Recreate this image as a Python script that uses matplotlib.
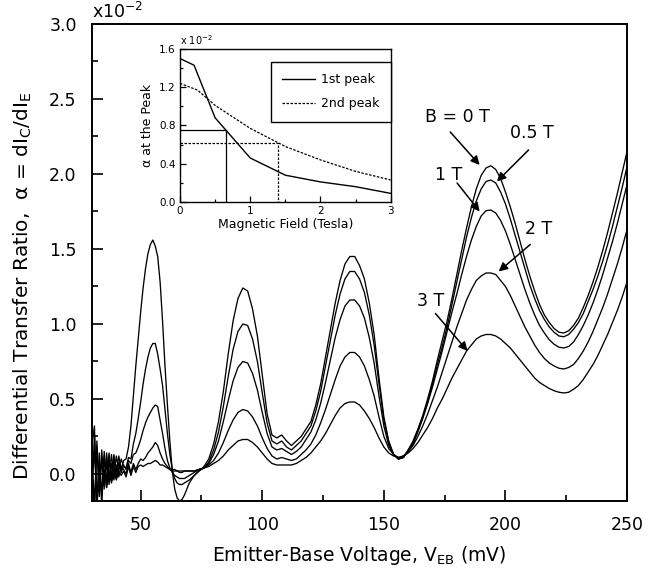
import matplotlib
matplotlib.use('Agg')
import matplotlib.pyplot as plt
from matplotlib.ticker import MultipleLocator, FormatStrFormatter

plt.rcParams['font.family'] = ['DejaVu Sans']
plt.rcParams['mathtext.fontset'] = 'dejavusans'

# emitter-base voltage grid (mV)
v_mv = list(range(30, 71)) + list(range(72, 251, 2))

# alpha (x1e-2) for each magnetic field
alpha_0t = [0.20, 0.32, -0.25, 0.14, -0.22, 0.15, -0.06, 0.14, -0.03, 0.13, 0.01, 0.12, 0.03, 0.09,
            0.10, 0.18, 0.32, 0.52, 0.72, 0.90, 1.08, 1.24, 1.37, 1.47, 1.53, 1.56, 1.52, 1.45, 1.28,
            1.02, 0.72, 0.46, 0.22, 0.02, -0.10, -0.16, -0.18, -0.17, -0.14, -0.10, -0.06,
            -0.01, 0.02, 0.05, 0.10, 0.20, 0.35, 0.55, 0.80, 1.02, 1.17, 1.24, 1.22, 1.10, 0.92, 0.66,
            0.40, 0.26, 0.24, 0.26, 0.22, 0.19, 0.22, 0.25, 0.30, 0.35, 0.46, 0.60, 0.78, 0.96, 1.14,
            1.29, 1.40, 1.45, 1.45, 1.39, 1.30, 1.14, 0.93, 0.64, 0.38, 0.22, 0.13, 0.10, 0.11, 0.16,
            0.22, 0.30, 0.39, 0.50, 0.62, 0.76, 0.89, 1.02, 1.17, 1.33, 1.49, 1.64, 1.78, 1.90, 1.99,
            2.04, 2.055, 2.03, 1.97, 1.88, 1.78, 1.67, 1.55, 1.43, 1.32, 1.22, 1.13, 1.06, 1.01, 0.97,
            0.945, 0.94, 0.955, 0.99, 1.04, 1.11, 1.19, 1.28, 1.38, 1.49, 1.61, 1.74, 1.87, 2.01, 2.15]
alpha_05t = [0.05, -0.25, 0.22, -0.12, 0.16, -0.08, 0.14, -0.04, 0.13, -0.01, 0.12, 0.02, 0.10, 0.05,
             0.04, 0.11, 0.10, 0.20, 0.27, 0.37, 0.48, 0.60, 0.70, 0.78, 0.84, 0.87, 0.87, 0.80, 0.70,
             0.59, 0.43, 0.27, 0.13, 0.03, -0.03, -0.06, -0.07, -0.07, -0.06, -0.05, -0.04,
             -0.01, 0.02, 0.04, 0.08, 0.16, 0.28, 0.45, 0.65, 0.83, 0.95, 1.00, 0.99, 0.90, 0.75, 0.54,
             0.34, 0.22, 0.20, 0.22, 0.18, 0.16, 0.19, 0.22, 0.27, 0.32, 0.42, 0.55, 0.72, 0.89, 1.06,
             1.20, 1.30, 1.35, 1.35, 1.30, 1.21, 1.06, 0.86, 0.60, 0.36, 0.21, 0.13, 0.10, 0.11, 0.16,
             0.21, 0.29, 0.38, 0.48, 0.60, 0.73, 0.85, 0.98, 1.13, 1.28, 1.43, 1.58, 1.71, 1.82, 1.90,
             1.95, 1.96, 1.94, 1.88, 1.80, 1.70, 1.59, 1.48, 1.37, 1.26, 1.17, 1.09, 1.03, 0.98, 0.945,
             0.92, 0.915, 0.93, 0.965, 1.01, 1.07, 1.15, 1.23, 1.32, 1.42, 1.53, 1.65, 1.78, 1.91, 2.05]
alpha_1t = [-0.10, 0.26, -0.22, 0.08, -0.14, 0.12, -0.09, 0.10, -0.05, 0.09, -0.03, 0.08, 0.01, 0.06,
            0.03, 0.09, 0.07, 0.13, 0.14, 0.18, 0.23, 0.29, 0.34, 0.38, 0.41, 0.44, 0.46, 0.45, 0.36,
            0.27, 0.17, 0.09, 0.04, 0.01, -0.01, -0.02, -0.03, -0.03, -0.03, -0.02, -0.01,
            0.01, 0.03, 0.04, 0.07, 0.13, 0.22, 0.35, 0.49, 0.62, 0.71, 0.75, 0.74, 0.67, 0.56, 0.41,
            0.27, 0.18, 0.16, 0.17, 0.15, 0.13, 0.15, 0.18, 0.23, 0.28, 0.36, 0.47, 0.61, 0.76, 0.91,
            1.03, 1.12, 1.16, 1.16, 1.12, 1.04, 0.91, 0.74, 0.52, 0.32, 0.19, 0.13, 0.10, 0.11, 0.15,
            0.20, 0.28, 0.37, 0.47, 0.58, 0.70, 0.82, 0.95, 1.08, 1.20, 1.33, 1.45, 1.56, 1.65, 1.72,
            1.755, 1.76, 1.74, 1.69, 1.62, 1.53, 1.43, 1.33, 1.23, 1.14, 1.06, 0.99, 0.94, 0.895, 0.865,
            0.845, 0.84, 0.85, 0.88, 0.93, 0.99, 1.06, 1.14, 1.23, 1.33, 1.44, 1.55, 1.67, 1.80, 1.93]
alpha_2t = [0.10, -0.20, 0.18, -0.15, 0.10, -0.10, 0.08, -0.07, 0.07, -0.04, 0.06, -0.02, 0.05, 0.03,
            0.00, 0.07, 0.01, 0.07, 0.03, 0.07, 0.10, 0.09, 0.11, 0.14, 0.16, 0.18, 0.21, 0.19, 0.14,
            0.10, 0.07, 0.05, 0.03, 0.02, 0.02, 0.02, 0.01, 0.01, 0.02, 0.02, 0.02,
            0.02, 0.03, 0.04, 0.06, 0.09, 0.14, 0.21, 0.29, 0.36, 0.41, 0.43, 0.42, 0.38, 0.32, 0.24,
            0.17, 0.12, 0.10, 0.11, 0.10, 0.09, 0.10, 0.13, 0.16, 0.20, 0.26, 0.34, 0.43, 0.53, 0.63,
            0.72, 0.78, 0.81, 0.81, 0.78, 0.72, 0.63, 0.52, 0.38, 0.25, 0.17, 0.13, 0.11, 0.12, 0.15,
            0.19, 0.25, 0.32, 0.40, 0.49, 0.58, 0.68, 0.78, 0.88, 0.98, 1.07, 1.16, 1.23, 1.29, 1.32,
            1.34, 1.34, 1.33, 1.29, 1.25, 1.19, 1.12, 1.05, 0.98, 0.92, 0.86, 0.81, 0.77, 0.74, 0.72,
            0.705, 0.70, 0.71, 0.73, 0.77, 0.82, 0.88, 0.95, 1.03, 1.11, 1.20, 1.30, 1.40, 1.51, 1.63]
alpha_3t = [-0.05, 0.15, -0.18, 0.06, -0.12, 0.03, -0.09, 0.02, -0.06, 0.02, -0.04, 0.02, -0.01, 0.02,
            -0.02, 0.05, -0.01, 0.05, 0.01, 0.05, 0.06, 0.05, 0.06, 0.07, 0.07, 0.08, 0.09, 0.08, 0.06,
            0.06, 0.05, 0.04, 0.03, 0.03, 0.03, 0.02, 0.02, 0.02, 0.02, 0.02, 0.02,
            0.02, 0.03, 0.04, 0.05, 0.07, 0.09, 0.12, 0.16, 0.19, 0.22, 0.23, 0.23, 0.21, 0.18, 0.14,
            0.10, 0.07, 0.06, 0.06, 0.06, 0.06, 0.07, 0.09, 0.11, 0.14, 0.18, 0.22, 0.27, 0.33, 0.39,
            0.44, 0.47, 0.48, 0.48, 0.46, 0.42, 0.37, 0.31, 0.24, 0.18, 0.14, 0.12, 0.11, 0.12, 0.14,
            0.17, 0.21, 0.26, 0.31, 0.37, 0.44, 0.50, 0.57, 0.64, 0.70, 0.76, 0.82, 0.86, 0.90, 0.92,
            0.93, 0.93, 0.92, 0.90, 0.87, 0.84, 0.80, 0.76, 0.72, 0.68, 0.64, 0.61, 0.59, 0.57, 0.555,
            0.545, 0.54, 0.545, 0.565, 0.59, 0.63, 0.68, 0.73, 0.79, 0.86, 0.93, 1.01, 1.09, 1.18, 1.28]
curves = [alpha_0t, alpha_05t, alpha_1t, alpha_2t, alpha_3t]

# inset: alpha at the peaks vs magnetic field
b_first = [0, 0.2, 0.5, 1.0, 1.5, 2.0, 2.5, 3.0]
peak_first = [1.50, 1.43, 0.88, 0.46, 0.28, 0.21, 0.16, 0.09]
b_second = [0, 0.25, 0.5, 1.0, 1.5, 2.0, 2.5, 3.0]
peak_second = [1.24, 1.17, 1.01, 0.77, 0.58, 0.44, 0.32, 0.23]
half_first = (0.65, 0.75)
half_second = (1.40, 0.62)

# labels: (text, text pos, arrow tail, arrow head)
field_labels = [
    ('B = 0 T', (180.2, 2.38), (177.3, 2.28), (189.4, 2.06)),
    ('0.5 T', (211.0, 2.27), (209.5, 2.16), (196.5, 1.95)),
    ('1 T', (176.6, 1.99), (180.1, 1.94), (189.4, 1.75)),
    ('2 T', (213.7, 1.63), (210.2, 1.53), (197.2, 1.35)),
    ('3 T', (169.1, 1.15), (171.2, 1.07), (184.4, 0.82)),
]

fig = plt.figure(figsize=(6.63, 5.74), dpi=100)
ax = fig.add_axes([0.1388, 0.1272, 0.807, 0.831])
for vals in curves:
    ax.plot(v_mv, vals, color='k', lw=0.95)

ax.set_xlim(30, 250)
ax.set_ylim(-0.18, 3.0)
ax.xaxis.set_major_locator(MultipleLocator(50))
ax.xaxis.set_minor_locator(MultipleLocator(25))
ax.yaxis.set_major_locator(MultipleLocator(0.5))
ax.yaxis.set_minor_locator(MultipleLocator(0.25))
ax.yaxis.set_major_formatter(FormatStrFormatter('%.1f'))
ax.tick_params(which='both', direction='in', top=False, right=False, width=1.2)
ax.tick_params(which='major', length=8, labelsize=12.5, pad=11)
ax.tick_params(which='minor', length=4.5)
for s in ax.spines.values():
    s.set_linewidth(1.4)

ax.set_xlabel('Emitter-Base Voltage, V$_\\mathregular{EB}$ (mV)', fontsize=13.5, labelpad=7)
ax.set_ylabel('Differential Transfer Ratio,  \u03b1 = dI$_\\mathregular{C}$/dI$_\\mathregular{E}$',
              fontsize=14.5)
ax.yaxis.set_label_coords(-0.108, 0.45)
ax.text(0.0, 1.004, 'x10$^\\mathregular{-2}$', transform=ax.transAxes, ha='left', va='bottom',
        fontsize=12.5)

for label, txt_pos, tail, head in field_labels:
    ax.text(txt_pos[0], txt_pos[1], label, ha='center', va='center', fontsize=12.5)
    ax.annotate('', xy=head, xytext=tail,
                arrowprops=dict(arrowstyle='-|>', color='k', lw=1.1, mutation_scale=13,
                                shrinkA=0, shrinkB=0))

# inset
ax_in = fig.add_axes([0.2715, 0.6481, 0.3178, 0.2666])
ax_in.plot(b_first, peak_first, color='k', lw=1.0, label='1st peak')
ax_in.plot(b_second, peak_second, color='k', lw=0.9, ls=(0, (2, 1.2)), label='2nd peak')
ax_in.plot([0, half_first[0], half_first[0]], [half_first[1], half_first[1], 0], color='k', lw=0.9)
ax_in.plot([0, half_second[0], half_second[0]], [half_second[1], half_second[1], 0], color='k',
           lw=0.9, ls=(0, (2, 1.2)))
ax_in.set_xlim(0, 3)
ax_in.set_ylim(0, 1.6)
ax_in.xaxis.set_major_locator(MultipleLocator(1))
ax_in.xaxis.set_minor_locator(MultipleLocator(0.5))
ax_in.yaxis.set_major_locator(MultipleLocator(0.4))
ax_in.yaxis.set_minor_locator(MultipleLocator(0.2))
ax_in.yaxis.set_major_formatter(FormatStrFormatter('%.1f'))
ax_in.tick_params(which='both', direction='in', top=False, right=False, width=0.9)
ax_in.tick_params(which='major', length=4, labelsize=7.5, pad=3)
ax_in.tick_params(which='minor', length=2.5)
for s in ax_in.spines.values():
    s.set_linewidth(1.0)
ax_in.set_xlabel('Magnetic Field (Tesla)', fontsize=9, labelpad=1)
ax_in.set_ylabel('\u03b1 at the Peak', fontsize=9, labelpad=4)
ax_in.text(0.0, 1.01, 'x 10$^\\mathregular{-2}$', transform=ax_in.transAxes, ha='left', va='bottom',
           fontsize=7)
leg = ax_in.legend(loc='upper right', bbox_to_anchor=(1.0, 0.915), fontsize=9, handlelength=2.6,
                   handletextpad=0.5, borderpad=0.9, labelspacing=0.9, borderaxespad=0,
                   fancybox=False, edgecolor='k', framealpha=1)
leg.get_frame().set_linewidth(1.0)

fig.savefig('out.png', dpi=100)
